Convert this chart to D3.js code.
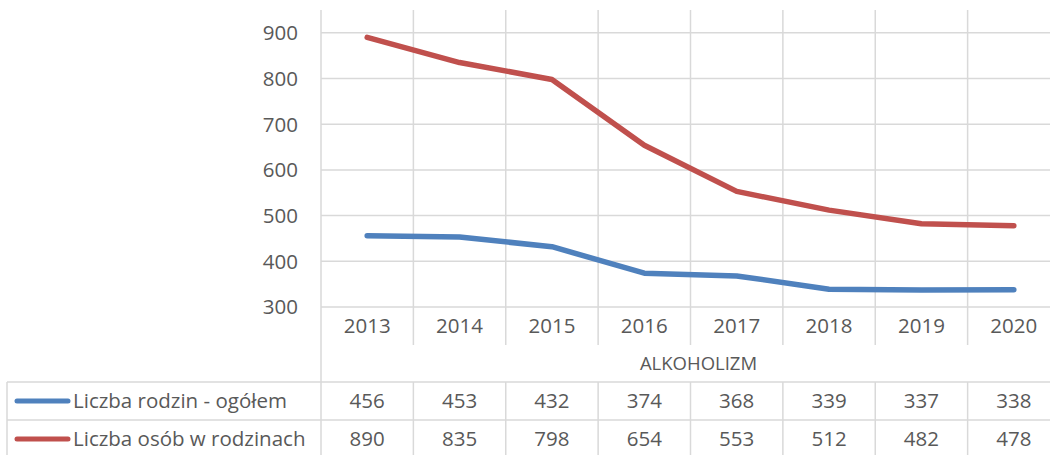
<!DOCTYPE html>
<html>
<head>
<meta charset="utf-8">
<script src="https://cdn.jsdelivr.net/npm/d3@7"></script>
<style>
  html, body { margin: 0; padding: 0; background: #fff; }
  svg text { font-family: "Open Sans", "Noto Sans", sans-serif; fill: #595959; }
</style>
</head>
<body>
<div id="chart"></div>
<script>
// Data
const years = ["2013", "2014", "2015", "2016", "2017", "2018", "2019", "2020"];
const liczbaRodzin = [456, 453, 432, 374, 368, 339, 337, 338];
const liczbaOsob = [890, 835, 798, 654, 553, 512, 482, 478];
const yTicks = [300, 400, 500, 600, 700, 800, 900];
const groupLabel = "ALKOHOLIZM";

const series = [
    { name: "Liczba rodzin - ogółem", values: liczbaRodzin, color: "#4F81BD" },
    { name: "Liczba osób w rodzinach", values: liczbaOsob, color: "#C0504D" }
];

const W = 1050, H = 455;
const grid = "#D9D9D9";

const plot = { left: 321, right: 1060, top: 10, bottom: 307 };
const tableLeft = 7;
const rowYear = 345, rowGroup = 382, rowH = 38;

const svg = d3.select("#chart").append("svg")
    .attr("width", W)
    .attr("height", H);

// Scales
const x = d3.scaleBand()
    .domain(years)
    .range([plot.left, plot.right]);

const y = d3.scaleLinear()
    .domain([300, 950])
    .range([plot.bottom, plot.top]);

// Horizontal gridlines
svg.append("g")
    .selectAll("line")
    .data(yTicks)
    .enter()
    .append("line")
    .attr("x1", plot.left)
    .attr("x2", W)
    .attr("y1", d => y(d))
    .attr("y2", d => y(d))
    .attr("stroke", grid)
    .attr("stroke-width", 1.5);

// Y axis labels
svg.append("g")
    .selectAll("text")
    .data(yTicks)
    .enter()
    .append("text")
    .attr("x", 298)
    .attr("y", d => y(d))
    .attr("dy", "0.36em")
    .attr("text-anchor", "end")
    .style("font-size", "20.5px")
    .text(d => d);

// Vertical category lines (plot + year row)
const edges = years.map(d => x(d)).concat([plot.right]);
svg.append("g")
    .selectAll("line")
    .data(edges)
    .enter()
    .append("line")
    .attr("x1", d => d)
    .attr("x2", d => d)
    .attr("y1", plot.top)
    .attr("y2", (d, i) => i === 0 ? H : rowYear)
    .attr("stroke", grid)
    .attr("stroke-width", 1.5);

// Data table rows
const rowTops = [rowGroup, rowGroup + rowH, rowGroup + 2 * rowH];
svg.append("g")
    .selectAll("line")
    .data(rowTops)
    .enter()
    .append("line")
    .attr("x1", tableLeft)
    .attr("x2", W)
    .attr("y1", d => d)
    .attr("y2", d => d)
    .attr("stroke", grid)
    .attr("stroke-width", 1.5);

svg.append("line")
    .attr("x1", tableLeft).attr("x2", tableLeft)
    .attr("y1", rowGroup).attr("y2", H)
    .attr("stroke", grid)
    .attr("stroke-width", 1.5);

// Vertical lines within value rows
svg.append("g")
    .selectAll("line")
    .data(edges.slice(1))
    .enter()
    .append("line")
    .attr("x1", d => d)
    .attr("x2", d => d)
    .attr("y1", rowGroup)
    .attr("y2", H)
    .attr("stroke", grid)
    .attr("stroke-width", 1.5);

// Year labels
svg.append("g")
    .selectAll("text")
    .data(years)
    .enter()
    .append("text")
    .attr("x", d => x(d) + x.bandwidth() / 2)
    .attr("y", (plot.bottom + rowYear) / 2)
    .attr("dy", "0.36em")
    .attr("text-anchor", "middle")
    .style("font-size", "20.5px")
    .text(d => d);

// Group label
svg.append("text")
    .attr("x", (plot.left + plot.right) / 2 + 8)
    .attr("y", (rowYear + rowGroup) / 2)
    .attr("dy", "0.36em")
    .attr("text-anchor", "middle")
    .style("font-size", "18.5px")
    .text(groupLabel);

// Table values + legend keys
series.forEach((s, si) => {
    const cy = rowGroup + rowH * si + rowH / 2;

    svg.append("line")
        .attr("x1", 17).attr("x2", 68)
        .attr("y1", cy).attr("y2", cy)
        .attr("stroke", s.color)
        .attr("stroke-width", 5)
        .attr("stroke-linecap", "round");

    svg.append("text")
        .attr("x", 73)
        .attr("y", cy)
        .attr("dy", "0.36em")
        .style("font-size", "20.5px")
        .text(s.name);

    svg.append("g")
        .selectAll("text")
        .data(s.values)
        .enter()
        .append("text")
        .attr("x", (d, i) => x(years[i]) + x.bandwidth() / 2)
        .attr("y", cy)
        .attr("dy", "0.36em")
        .attr("text-anchor", "middle")
        .style("font-size", "20.5px")
        .text(d => d);
});

// Lines
const line = d3.line()
    .x((d, i) => x(years[i]) + x.bandwidth() / 2)
    .y(d => y(d));

svg.append("g")
    .selectAll("path")
    .data(series)
    .enter()
    .append("path")
    .attr("d", d => line(d.values))
    .attr("fill", "none")
    .attr("stroke", d => d.color)
    .attr("stroke-width", 5.5)
    .attr("stroke-linecap", "round")
    .attr("stroke-linejoin", "round");
</script>
</body>
</html>
